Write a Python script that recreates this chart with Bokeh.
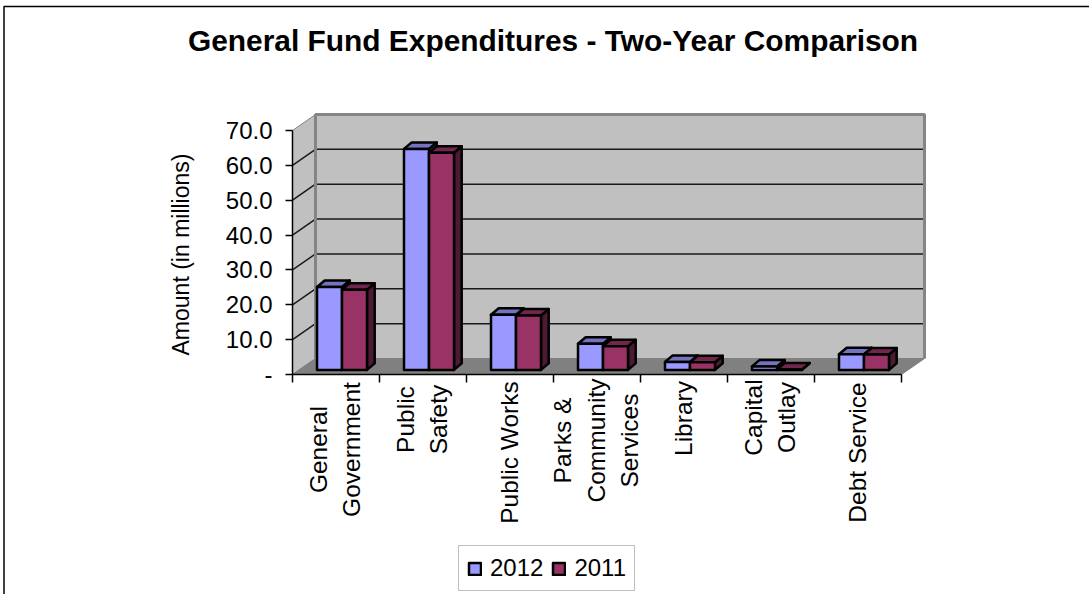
from math import pi

from bokeh.core.properties import value
from bokeh.embed import file_html
from bokeh.models import (BoxAnnotation, ColumnDataSource, FixedTicker, Label, LabelSet,
                          Legend, LegendItem, NumeralTickFormatter, Range1d)
from bokeh.plotting import figure
from bokeh.resources import INLINE

# Expenditure by department, in millions of dollars
categories = ["General Government", "Public Safety", "Public Works",
              "Parks & Community Services", "Library", "Capital Outlay", "Debt Service"]
label_lines = [["General", "Government"], ["Public", "Safety"], ["Public Works"],
               ["Parks &", "Community", "Services"], ["Library"], ["Capital", "Outlay"],
               ["Debt Service"]]
values_2012 = [23.8, 63.4, 15.8, 7.5, 2.3, 1.0, 4.5]
values_2011 = [23.0, 62.3, 15.6, 6.8, 2.2, 0.1, 4.4]
value_ticks = [0, 10, 20, 30, 40, 50, 60, 70]

WIDTH, HEIGHT = 1089, 594
FONT = "Liberation Sans"

# Pixel position of the value/category origin; one category spans CAT_PX, one million UNIT_PX
ORIGIN_X, ORIGIN_Y = 292, 374
CAT_PX = 87.0
UNIT_PX = 244.0 / 70.0


def dx(px):
    return px / CAT_PX


def dy(px):
    return px / UNIT_PX


def data_x(px):
    return (px - ORIGIN_X) / CAT_PX


def data_y(px):
    return (ORIGIN_Y - px) / UNIT_PX


p = figure(width=WIDTH, height=HEIGHT, output_backend="svg", toolbar_location=None,
           x_range=Range1d(data_x(0), data_x(WIDTH)),
           y_range=Range1d(data_y(HEIGHT), data_y(0)),
           min_border=0, min_border_left=0, min_border_right=0,
           min_border_top=0, min_border_bottom=0)
p.outline_line_color = None
p.grid.visible = False

# Chart-area border: only its top and left edges fall inside the page
p.add_layout(BoxAnnotation(left=data_x(3.5), right=data_x(WIDTH + 20), top=data_y(6),
                           bottom=data_y(HEIGHT + 20), fill_color=None, line_color="black",
                           line_alpha=1, line_width=1.5, level="underlay"))

# Walls and floor of the 3-D box
DEPTH_X, DEPTH_Y = dx(23), dy(16)
n_cat = len(categories)
top = max(value_ticks)
p.patch([0, DEPTH_X, DEPTH_X, 0], [0, DEPTH_Y, top + DEPTH_Y, top], fill_color="#c0c0c0",
        line_color="#808080", line_width=1)
p.patch([DEPTH_X, n_cat + DEPTH_X, n_cat + DEPTH_X, DEPTH_X],
        [DEPTH_Y, DEPTH_Y, top + DEPTH_Y, top + DEPTH_Y], fill_color="#c0c0c0", line_color=None)
p.patch([0, n_cat, n_cat + DEPTH_X, DEPTH_X], [0, 0, DEPTH_Y, DEPTH_Y], fill_color="#808080",
        line_color="#808080", line_width=1)

# Gridlines run along the back wall and slant across the side wall
grid_vals = [v for v in value_ticks[1:-1]]
p.multi_line([[0, DEPTH_X, n_cat + DEPTH_X] for _ in grid_vals],
             [[v, v + DEPTH_Y, v + DEPTH_Y] for v in grid_vals],
             line_color="#1a1a1a", line_width=1.5)

# Back wall's heavy edges
p.line([DEPTH_X, DEPTH_X, n_cat + DEPTH_X, n_cat + DEPTH_X],
       [DEPTH_Y, top + DEPTH_Y, top + DEPTH_Y, DEPTH_Y], line_color="#858585", line_width=3)

# Bars: a front, a top and a side face for each series
BAR_LEFT = dx(24.5)
BAR_W = dx(25)
BASE = dy(4.6)
BD_X, BD_Y = dx(7.7), dy(6.5)


def faces(values, shift):
    front_x, front_y, top_x, top_y, side_x, side_y = [], [], [], [], [], []
    for i, v in enumerate(values):
        x0 = i + BAR_LEFT + shift
        x1 = x0 + BAR_W
        y0, y1 = BASE, BASE + v
        front_x.append([x0, x1, x1, x0])
        front_y.append([y0, y0, y1, y1])
        top_x.append([x0, x1, x1 + BD_X, x0 + BD_X])
        top_y.append([y1, y1, y1 + BD_Y, y1 + BD_Y])
        side_x.append([x1, x1 + BD_X, x1 + BD_X, x1])
        side_y.append([y0, y0 + BD_Y, y1 + BD_Y, y1])
    return front_x, front_y, top_x, top_y, side_x, side_y


def draw_series(values, shift, front_color, top_color, side_color):
    fx, fy, tx, ty, sx, sy = faces(values, shift)
    style = dict(line_color="black", line_width=2.5, line_join="round")
    p.patches(sx, sy, fill_color=side_color, **style)
    p.patches(tx, ty, fill_color=top_color, **style)
    return p.patches(fx, fy, fill_color=front_color, **style)


front_2012 = draw_series(values_2012, 0, "#9999ff", "#7373bf", "#4d4d80")
front_2011 = draw_series(values_2011, BAR_W, "#993366", "#73264d", "#4d1a33")

# Value axis, pinned to the front-left edge of the box
p.yaxis.fixed_location = 0
p.yaxis.ticker = FixedTicker(ticks=value_ticks)
p.yaxis.bounds = (0, top)
p.yaxis.major_label_overrides = {0: "-"}
p.yaxis.formatter = NumeralTickFormatter(format="0.0")
p.yaxis.axis_line_color = "black"
p.yaxis.axis_line_width = 1.5
p.yaxis.major_tick_line_color = "black"
p.yaxis.major_tick_line_width = 1.5
p.yaxis.major_tick_out = 7
p.yaxis.major_tick_in = 0
p.yaxis.minor_tick_line_color = None
p.yaxis.major_label_text_font = FONT
p.yaxis.major_label_text_font_size = "24px"
p.yaxis.major_label_text_color = "black"
p.yaxis.major_label_standoff = 13

p.add_layout(Label(x=data_x(180), y=data_y(254), text="Amount (in millions)", angle=pi / 2,
                   text_align="center", text_baseline="middle", text_font=FONT,
                   text_font_size="23px", text_color="black"))

# Category axis: ticks on the category borders, text drawn separately below
p.xaxis.fixed_location = 0
p.xaxis.ticker = FixedTicker(ticks=list(range(n_cat + 1)))
p.xaxis.bounds = (0, n_cat)
p.xaxis.major_label_text_font_size = "0px"
p.xaxis.major_label_text_color = None
p.xaxis.axis_line_color = "black"
p.xaxis.axis_line_width = 1.5
p.xaxis.major_tick_line_color = "black"
p.xaxis.major_tick_line_width = 1.5
p.xaxis.major_tick_out = 8
p.xaxis.major_tick_in = 0
p.xaxis.minor_tick_line_color = None

# Category text: vertical, one column per line of the label
LINE_STEP = 33.5
LABEL_TOP = 381
LABEL_SPAN = {"General Government": 136, "Public Safety": 76, "Public Works": 142,
              "Parks & Community Services": 118, "Library": 74, "Capital Outlay": 72,
              "Debt Service": 142}
rows = dict(x=[], y=[], text=[], off=[])
for i, (name, lines) in enumerate(zip(categories, label_lines)):
    centre_px = LABEL_TOP + LABEL_SPAN[name] / 2
    for k, line in enumerate(lines):
        rows["x"].append(i + 0.5)
        rows["y"].append(data_y(centre_px))
        rows["text"].append(line)
        rows["off"].append((k - (len(lines) - 1) / 2) * LINE_STEP - 1)
p.add_layout(LabelSet(x="x", y="y", text="text", x_offset="off", source=ColumnDataSource(rows),
                      angle=pi / 2, text_align="center", text_baseline="middle",
                      text_font=value(FONT), text_font_size=value("24.5px"), text_color="black"))

# Chart title
p.add_layout(Label(x=data_x(552.5), y=data_y(40),
                   text="General Fund Expenditures - Two-Year Comparison",
                   text_align="center", text_baseline="middle", text_font=FONT,
                   text_font_size="29.9px", text_font_style="bold", text_color="black"))

legend = Legend(items=[LegendItem(label="2012", renderers=[front_2012]),
                       LegendItem(label="2011", renderers=[front_2011])],
                orientation="horizontal", location=(458, HEIGHT - 591),
                glyph_width=15, glyph_height=15, label_text_font=FONT,
                label_text_font_size="24px", label_text_color="black",
                border_line_color="#808080", border_line_width=1.5, background_fill_alpha=1,
                padding=8, spacing=8, margin=0, label_standoff=8)
p.add_layout(legend, "center")

open("out.html", "w").write(file_html(p, INLINE))
